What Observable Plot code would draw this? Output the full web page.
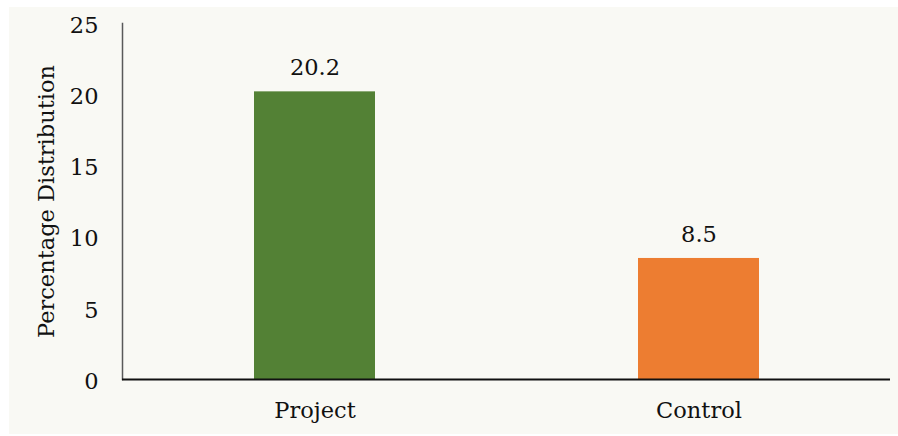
<!DOCTYPE html>
<html>
<head>
<meta charset="utf-8">
<script src="https://cdn.jsdelivr.net/npm/d3@7"></script>
<script src="https://cdn.jsdelivr.net/npm/@observablehq/plot@0.6"></script>
<style>
  html, body { margin: 0; padding: 0; background: #ffffff; }
  #chart { position: absolute; left: 9px; top: 7px; width: 889px; height: 427px; background: #f9f9f4; }
  #chart svg { display: block; background: #f9f9f4; }
</style>
</head>
<body>
<div id="chart"></div>
<script>
const groups = ["Project", "Control"];
const values = [20.2, 8.5];
const colors = ["#538135", "#ED7D31"];
const yTicks = [0, 5, 10, 15, 20, 25];
const yLabel = "Percentage Distribution";

const data = groups.map((g, i) => ({group: g, value: values[i], color: colors[i]}));
const font = "'DejaVu Serif', Georgia, serif";
const fs = 22.5;

const chart = Plot.plot({
  width: 889,
  height: 427,
  marginLeft: 113,
  marginRight: 8,
  marginTop: 16,
  marginBottom: 55,
  style: {fontFamily: font, fontSize: fs + "px", color: "#111", background: "#f9f9f4"},
  x: {domain: groups, paddingInner: 0.685, paddingOuter: 0.3425, label: null},
  y: {domain: [0, 25], ticks: yTicks, label: null},
  marks: [
    Plot.barY(data, {x: "group", y: "value", fill: "color"}),
    Plot.text(data, {x: "group", y: "value", text: d => d.value.toFixed(1), dy: -24, fontSize: fs, fill: "#111"}),
    Plot.axisY({ticks: yTicks, tickSize: 0, tickPadding: 24, dy: 2, fontSize: fs, label: null}),
    Plot.text([yLabel], {frameAnchor: "left", textAnchor: "middle", rotate: -90, dx: -76, dy: 0, fontSize: fs, fill: "#111"}),
    Plot.axisX({tickSize: 0, tickPadding: 23, fontSize: fs, label: null}),
    Plot.frame({anchor: "left", stroke: "#595959", strokeWidth: 1.5}),
    Plot.ruleY([0], {stroke: "#111", strokeWidth: 2})
  ]
});
document.getElementById("chart").appendChild(chart);
</script>
</body>
</html>
